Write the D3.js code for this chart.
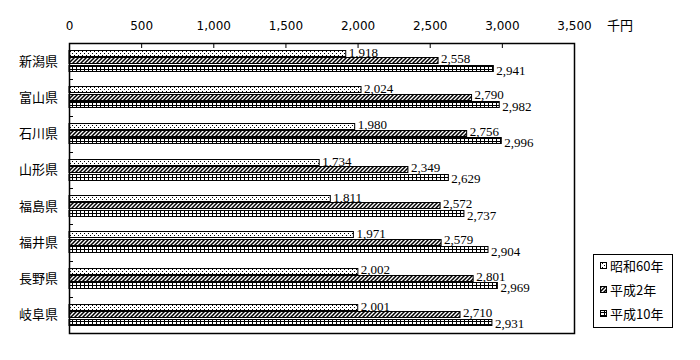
<!DOCTYPE html>
<html>
<head>
<meta charset="utf-8">
<script src="https://cdn.jsdelivr.net/npm/d3@7"></script>
<style>
  body { margin: 0; background: #fff; }
  svg { display: block; }
</style>
</head>
<body>
<svg id="chart" width="700" height="360"></svg>
<script>
const prefectures = ["新潟県", "富山県", "石川県", "山形県", "福島県", "福井県", "長野県", "岐阜県"]
const seriesNames = ["昭和60年", "平成2年", "平成10年"]
const showa60 = [1918, 2024, 1980, 1734, 1811, 1971, 2002, 2001]
const heisei2 = [2558, 2790, 2756, 2349, 2572, 2579, 2801, 2710]
const heisei10 = [2941, 2982, 2996, 2629, 2737, 2904, 2969, 2931]
const xTicks = [0, 500, 1000, 1500, 2000, 2500, 3000, 3500]
const unitLabel = "千円"

const allSeries = [showa60, heisei2, heisei10]
const patternIds = ["pDots", "pHatch", "pGrid"]
// labels sit a little off the bar centre so they don't collide
const labelShift = [-1.5, -2.5, 1.5]

const svg = d3.select("#chart")
const plotLeft = 69, plotRight = 574, plotTop = 43, plotBottom = 333

// patterns
const defs = svg.append("defs")
const dots = defs.append("pattern").attr("id", "pDots")
    .attr("patternUnits", "userSpaceOnUse").attr("width", 4).attr("height", 4)
dots.append("rect").attr("width", 4).attr("height", 4).attr("fill", "#fff")
dots.append("rect").attr("x", 0).attr("y", 1).attr("width", 1).attr("height", 1).attr("fill", "#000")
dots.append("rect").attr("x", 2).attr("y", 3).attr("width", 1).attr("height", 1).attr("fill", "#000")

const hatch = defs.append("pattern").attr("id", "pHatch")
    .attr("patternUnits", "userSpaceOnUse").attr("width", 4).attr("height", 4)
hatch.append("rect").attr("width", 4).attr("height", 4).attr("fill", "#fff")
hatch.append("path").attr("d", "M-1,5 L5,-1 M-1,1 L1,-1 M3,5 L5,3")
    .attr("stroke", "#000").attr("stroke-width", 1.5)

const grid = defs.append("pattern").attr("id", "pGrid")
    .attr("patternUnits", "userSpaceOnUse").attr("width", 4).attr("height", 3)
grid.append("rect").attr("width", 4).attr("height", 3).attr("fill", "#fff")
grid.append("rect").attr("x", 0).attr("y", 0).attr("width", 4).attr("height", 1).attr("fill", "#000")
grid.append("rect").attr("x", 0).attr("y", 0).attr("width", 1).attr("height", 3).attr("fill", "#000")

const x = d3.scaleLinear().domain([0, 3500]).range([plotLeft, plotRight])
const y = d3.scaleBand().domain(prefectures).range([plotTop, plotBottom])
    .paddingInner(0.39).paddingOuter(0.195)
const ySub = d3.scaleBand().domain(d3.range(allSeries.length)).range([0, y.bandwidth()])

// top axis, ticks pointing inside
const xAxis = d3.axisTop(x).tickValues(xTicks).tickSizeInner(-5).tickSizeOuter(0)
    .tickPadding(13).tickFormat(d3.format(","))
const gx = svg.append("g").attr("transform", "translate(0," + plotTop + ")").call(xAxis)
gx.select(".domain").remove()
gx.selectAll("line").attr("stroke", "#000")
gx.selectAll("text").attr("font-family", "DejaVu Sans").attr("font-size", 12).attr("fill", "#000")

svg.append("text").attr("x", 607).attr("y", plotTop - 13)
    .attr("font-family", "Noto Sans CJK JP").attr("font-size", 13).text(unitLabel)

// left category ticks between groups
const step = y.step()
svg.append("g").selectAll("line")
    .data(prefectures.slice(1))
    .join("line")
    .attr("x1", plotLeft).attr("x2", plotLeft + 4)
    .attr("y1", (d) => Math.round(y(d) - step * 0.195) + 0.5)
    .attr("y2", (d) => Math.round(y(d) - step * 0.195) + 0.5)
    .attr("stroke", "#000")

// category labels
svg.append("g").selectAll("text")
    .data(prefectures)
    .join("text")
    .attr("x", 58)
    .attr("y", (d) => y(d) + y.bandwidth() / 2)
    .attr("dy", "0.35em")
    .attr("text-anchor", "end")
    .attr("font-family", "Noto Sans CJK JP")
    .attr("font-size", 13)
    .text((d) => d)

// bars
allSeries.forEach((values, s) => {
    const g = svg.append("g")
    const rows = prefectures.map((p, i) => ({ p: p, v: values[i] }))
    g.selectAll("rect")
        .data(rows)
        .join("rect")
        .attr("x", plotLeft)
        .attr("y", (d) => Math.round(y(d.p) + ySub(s)) + 0.5)
        .attr("width", (d) => x(d.v) - plotLeft)
        .attr("height", Math.round(ySub.bandwidth()) - 1)
        .attr("fill", "url(#" + patternIds[s] + ")")
        .attr("stroke", "#000")
        .attr("stroke-width", 1)
    g.selectAll("text")
        .data(rows)
        .join("text")
        .attr("x", (d) => x(d.v) + 3)
        .attr("y", (d) => y(d.p) + ySub(s) + ySub.bandwidth() / 2 + labelShift[s])
        .attr("dy", "0.35em")
        .attr("font-family", "Liberation Serif")
        .attr("font-size", 13)
        .text((d) => d3.format(",")(d.v))
})

// plot frame
svg.append("rect")
    .attr("x", plotLeft + 0.5).attr("y", plotTop + 0.5)
    .attr("width", plotRight - plotLeft).attr("height", plotBottom - plotTop)
    .attr("fill", "none").attr("stroke", "#000").attr("stroke-width", 1.5)

// legend
const legend = svg.append("g")
legend.append("rect")
    .attr("x", 593.5).attr("y", 254.5).attr("width", 79).attr("height", 73)
    .attr("fill", "#fff").attr("stroke", "#000")
const legendY = d3.scalePoint().domain(seriesNames).range([266, 314])
seriesNames.forEach((name, s) => {
    const cy = legendY(name)
    legend.append("rect")
        .attr("x", 600.5).attr("y", cy - 3.5).attr("width", 6).attr("height", 6)
        .attr("fill", "url(#" + patternIds[s] + ")").attr("stroke", "#000")
    legend.append("text")
        .attr("x", 610).attr("y", cy).attr("dy", "0.35em")
        .attr("font-family", "Noto Sans CJK JP").attr("font-size", 13)
        .text(name)
})
</script>
</body>
</html>
